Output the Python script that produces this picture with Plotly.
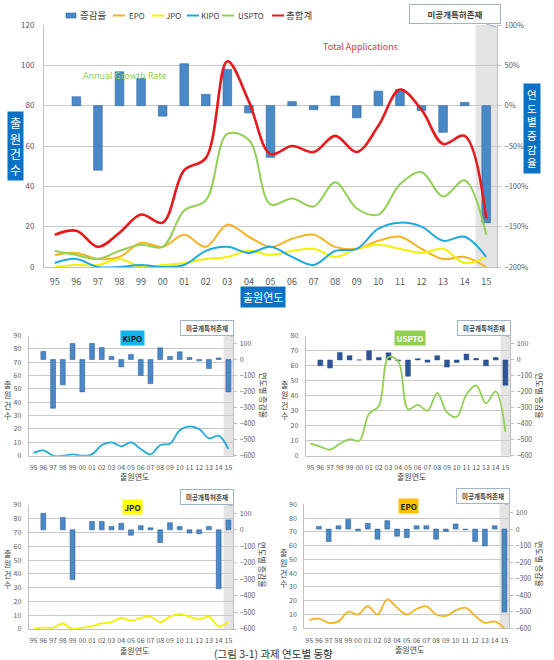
import plotly.graph_objects as go

# ---------------- data ----------------
years = ["95", "96", "97", "98", "99", "00", "01", "02", "03", "04", "05",
         "06", "07", "08", "09", "10", "11", "12", "13", "14", "15"]

epo   = [6, 7, 4, 5, 12, 10, 16, 10, 21, 15, 10, 14, 16, 10, 9, 13, 15, 9, 4, 5, 0]
jpo   = [0, 1, 1, 4, 0, 1, 2, 4, 5, 8, 6, 8, 9, 5, 9, 11, 9, 7, 9, 2, 5]
kipo  = [2, 4, 0, 0, 1, 0, 1, 8, 10, 7, 10, 5, 1, 8, 9, 19, 22, 20, 13, 15, 5]
uspto = [8, 6, 4, 8, 11, 10, 28, 33, 66, 63, 31, 34, 30, 42, 29, 26, 41, 47, 35, 43, 16]
total = [16, 18, 10, 17, 26, 22, 48, 54, 102, 82, 56, 60, 57, 65, 57, 70, 88, 78, 61, 65, 24]

growth_total = [None, 11, -80, 42, 34, -13, 52, 14, 45, -9, -64, 5, -5, 12, -15, 18, 20, -6, -33, 4, -145]
growth_kipo  = [None, 50, -304, -158, 100, -202, 100, 75, 19, -46, 31, -100, -150, 73, 19, 48, 12, -8, -56, 10, -202]
growth_uspto = [None, -37, -51, 47, 27, 0, 57, 16, 45, -5, -102, 8, -14, 27, -45, -16, 37, 10, -37, 16, -159]
growth_jpo   = [None, 100, None, 75, -300, None, 50, 50, 20, 40, -33, 25, 12, -77, 43, 20, -20, -24, 20, -357, 60]
growth_epo   = [None, 16, -75, 20, 59, -10, 35, -61, 51, -43, -51, 20, 20, -61, -14, 31, -4, -75, -102, 20, -502]

legend_names = ["증감율", "EPO", "JPO", "KIPO", "USPTO", "총합계"]

# ---------------- style ----------------
W, H = 554, 660
def fx(p): return p / W
def fy(p): return 1 - p / H

FONT = "Noto Sans CJK KR, Noto Sans, sans-serif"
GRID = "#c9c9c9"
AXL = "#bfbfbf"
TICK = "#595959"
C_EPO, C_JPO, C_KIPO, C_USPTO, C_TOT = "#f5b324", "#f2f200", "#1fa8df", "#92cf55", "#e8191c"
BAR = "#4a89c8"
BAR_LINE = "#2d62a0"
line_colors = [C_EPO, C_JPO, C_KIPO, C_USPTO, C_TOT]


def note(text, px, py, size, color="#404040", xanchor="center", **kw):
    return dict(text=text, xref="paper", yref="paper", x=fx(px), y=fy(py),
                xanchor=xanchor, yanchor="middle", showarrow=False,
                font=dict(size=size, color=color), **kw)


def callout(tip_px, tip_py, ax, ay, size, width, pad):
    return dict(text="<b>미공개특허존재</b>", xref="paper", yref="paper", x=fx(tip_px), y=fy(tip_py),
                ax=ax, ay=ay, xanchor="center", yanchor="middle", showarrow=True, arrowhead=0,
                arrowwidth=1, arrowcolor="#9fb4cc", font=dict(size=size, color="#404040"),
                bgcolor="white", bordercolor="#9fb4cc", borderwidth=1, borderpad=pad, width=width)


fig = go.Figure()

# ---------------- main chart ----------------
fig.add_trace(go.Bar(x=years, y=growth_total, xaxis="x", yaxis="y", name=legend_names[0],
                     width=0.4, marker=dict(color=BAR, line=dict(color=BAR_LINE, width=0.6))))
for name, vals, col in zip(legend_names[1:], [epo, jpo, kipo, uspto, total], line_colors):
    fig.add_trace(go.Scatter(x=years, y=vals, xaxis="x", yaxis="y2", name=name, mode="lines",
                             line=dict(color=col, width=2.6 if name == "총합계" else 2,
                                       shape="spline", smoothing=1.0)))

layout = dict(
    width=W, height=H, autosize=False,
    margin=dict(l=0, r=0, t=0, b=0, autoexpand=False),
    paper_bgcolor="white", plot_bgcolor="white",
    font=dict(family=FONT, color="#404040"),
    showlegend=False,
)

layout["xaxis"] = dict(domain=[fx(44), fx(497)], anchor="y", type="category", range=[-0.5, 20.5],
                       showline=True, linecolor=AXL, showgrid=False, tickangle=0,
                       tickfont=dict(size=9, color=TICK), ticklabelstandoff=6)
layout["yaxis"] = dict(domain=[fy(267), fy(25)], anchor="x", side="right", range=[-200, 100], dtick=50,
                       ticksuffix="%", showgrid=True, gridcolor=GRID, zeroline=False,
                       showline=True, linecolor=AXL, ticks="outside", ticklen=3, tickcolor=AXL,
                       tickfont=dict(size=7.5, color=TICK), ticklabelstandoff=2)
layout["yaxis2"] = dict(overlaying="y", anchor="x", side="left", range=[0, 120], dtick=20,
                        showgrid=False, zeroline=False, showline=True, linecolor=AXL,
                        tickfont=dict(size=8, color=TICK), ticklabelstandoff=7)

shapes = [dict(type="rect", xref="x", yref="y domain", x0=19.5, x1=20.5, y0=0, y1=1,
               fillcolor="#e4e4e4", line=dict(width=0), layer="below")]

annotations = [
    note("출<br>원<br>건<br>수", 15, 146, 12, "white", bgcolor="#0a72c4", borderpad=2),
    note("연<br>도<br>별<br>증<br>감<br>율", 532, 128, 10.5, "white", bgcolor="#0a72c4", borderpad=3),
    note("출원연도", 263, 297, 11, "white", bgcolor="#0a72c4", borderpad=2),
    note("Annual Growth Rate", 125, 75, 9, "#8fd35a"),
    note("Total Applications", 360, 47, 9, "#e03a3a"),
    callout(496, 27, -41, -13, 8.5, 84, 3),
    note("(그림 3-1) 과제 연도별 동향", 273, 653.5, 10.5, "#333333"),
]

# ---------------- legend (top of main chart) ----------------
shapes.append(dict(type="rect", xref="paper", yref="paper", x0=fx(66), x1=fx(76), y0=fy(18), y1=fy(13),
                   fillcolor=BAR, line=dict(color=BAR_LINE, width=0.6)))
annotations.append(note(legend_names[0], 78, 15.5, 9.5, xanchor="left"))
legend_pos = [(113, 127), (152, 164), (187, 199), (222, 236), (272, 284)]
for name, col, (lx, tx) in zip(legend_names[1:], line_colors, legend_pos):
    shapes.append(dict(type="line", xref="paper", yref="paper", x0=fx(lx), x1=fx(lx + 12),
                       y0=fy(15.5), y1=fy(15.5), line=dict(color=col, width=2)))
    annotations.append(note(name, tx, 15.5, 9.5 if name == "총합계" else 8, xanchor="left"))

# ---------------- small charts ----------------
subs = [
    ("KIPO", kipo, growth_kipo, C_KIPO, (28.7, 233.3), (335.5, 455.7), 90, "#12b4ef", "#1a1a1a", BAR),
    ("USPTO", uspto, growth_uspto, C_USPTO, (305.7, 510.3), (336.0, 455.7), 80, "#92d050", "white", "#2f5597"),
    ("JPO", jpo, growth_jpo, C_JPO, (28.7, 233.3), (505.0, 629.0), 90, "#ffff00", "#1a1a1a", BAR),
    ("EPO", epo, growth_epo, C_EPO, (304.3, 509.3), (504.3, 628.3), 90, "#ffc000", "#1a1a1a", BAR),
]

for i, (name, vals, growth, col, xr, yr, ymax, badge, badge_txt, barcol) in enumerate(subs):
    xn = i + 2
    yb = 2 * i + 3   # base axis (percent, bars)
    yo = 2 * i + 4   # overlay axis (counts, lines)
    xa, ya_b, ya_o = f"x{xn}", f"y{yb}", f"y{yo}"
    fig.add_trace(go.Bar(x=years, y=growth, xaxis=xa, yaxis=ya_b, name="증감율", showlegend=False,
                         width=0.5, marker=dict(color=barcol, line=dict(color="#24508a", width=0.5))))
    fig.add_trace(go.Scatter(x=years, y=vals, xaxis=xa, yaxis=ya_o, name=name, showlegend=False,
                             mode="lines", line=dict(color=col, width=1.8, shape="spline", smoothing=1.0)))

    layout[f"xaxis{xn}"] = dict(domain=[fx(xr[0]), fx(xr[1])], anchor=ya_b, type="category",
                                range=[-0.5, 20.5], showline=True, linecolor=AXL, showgrid=False,
                                tickangle=0, tickfont=dict(size=7, color=TICK), ticklabelstandoff=5)
    layout[f"yaxis{yb}"] = dict(domain=[fy(yr[1]), fy(yr[0])], anchor=xa, side="right",
                                range=[-600, 150], tickvals=[-600, -500, -400, -300, -200, -100, 0, 100],
                                ticksuffix="%", showgrid=False, zeroline=False, showline=True,
                                linecolor=AXL, ticks="outside", ticklen=3, tickcolor=AXL,
                                tickfont=dict(size=7, color=TICK), ticklabelstandoff=1)
    layout[f"yaxis{yo}"] = dict(overlaying=ya_b, anchor=xa, side="left", range=[0, ymax], dtick=10,
                                showgrid=True, gridcolor=GRID, zeroline=False, showline=True,
                                linecolor=AXL, tickfont=dict(size=7, color=TICK), ticklabelstandoff=5)

    shapes.append(dict(type="rect", xref=xa, yref=f"{ya_b} domain", x0=19.5, x1=20.5, y0=0, y1=1,
                       fillcolor="#e4e4e4", line=dict(width=0), layer="below"))

    cx = (xr[0] + xr[1]) / 2
    annotations += [
        note(f"<b>{name}</b>", cx + 1.5, yr[0] + 2, 8, badge_txt, bgcolor=badge, borderpad=1.5),
        callout(xr[1] - 1, yr[0] + 1, -25, -9, 6.5, 48, 2),
        note("출<br>원<br>건<br>수", xr[0] - 21, yr[0] + 64, 8),
        note("연도별 증감율", xr[1] + 30, yr[0] + 60, 8, textangle=90),
        note("출원연도", cx + 3, yr[1] + 21, 8),
    ]

layout["shapes"] = shapes
layout["annotations"] = annotations
fig.update_layout(**layout)

# remove the browser's default 8px page margin so the figure sits at the window's corner
fig.write_html("out.html", config={"displayModeBar": False},
               post_script="document.body.style.margin='0px';")
